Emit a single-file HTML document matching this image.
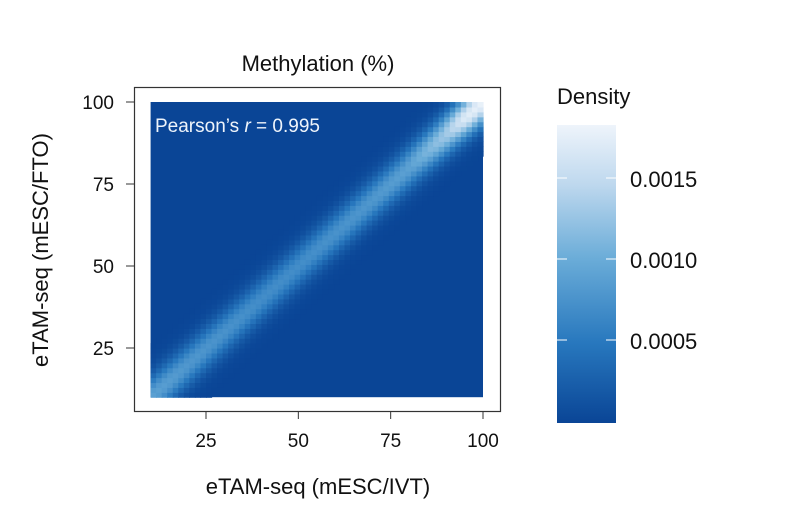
<!DOCTYPE html>
<html><head><meta charset="utf-8">
<style>
html,body{margin:0;padding:0;background:#fff;}
svg{display:block;font-family:"Liberation Sans",sans-serif;}
</style></head>
<body>
<svg id="chart" width="793" height="508" viewBox="0 0 793 508">
<text x="318" y="71" font-size="22" text-anchor="middle" fill="#111">Methylation (%)</text>
<rect x="134.5" y="87.5" width="366" height="324" fill="none" stroke="#333" stroke-width="1.2"/>
<g id="heat"></g>
<g id="xaxis"></g>
<g id="yaxis"></g>
<text x="155" y="132" font-size="19" fill="#eef4fb">Pearson’s <tspan font-style="italic">r</tspan> = 0.995</text>
<text x="318" y="494" font-size="22" text-anchor="middle" fill="#111">eTAM-seq (mESC/IVT)</text>
<text transform="translate(48,250) rotate(-90)" font-size="22" text-anchor="middle" fill="#111">eTAM-seq (mESC/FTO)</text>
<text x="557" y="104" font-size="22" fill="#111">Density</text>
<defs><linearGradient id="cg" x1="0" y1="1" x2="0" y2="0"></linearGradient></defs>
<rect x="557" y="125" width="59" height="298" fill="url(#cg)"/>
<g id="cbticks"></g>
</svg>
<script>
// data
const xTicks = [25, 50, 75, 100];
const yTicks = [25, 50, 75, 100];
const cbTicks = [0.0005, 0.0010, 0.0015];
const cbTickLabels = ["0.0005", "0.0010", "0.0015"];
const densityMax = 0.00183;
// peak density along the diagonal at methylation levels
const diagLevels = [10, 20, 30, 40, 50, 60, 70, 80, 90, 95, 100];
const diagPeak  = [0.0009, 0.0008, 0.00075, 0.0007, 0.0007, 0.00075, 0.0008, 0.0009, 0.0013, 0.0017, 0.0018];
const bandWidth = 3.2; // spread (% units) around identity
const binSize = 1.5;
const domainMin = 10, domainMax = 100;

const NS = "http://www.w3.org/2000/svg";
const X = v => 206 + (v - 25) * (483 - 206) / 75;
const Y = v => 348 - (v - 25) * (348 - 102) / 75;
const CB = d => 421 - d / 0.0005 * 81;

const stops = [[0,[10,69,150]],[0.27,[40,120,190]],[0.55,[106,172,216]],[0.8,[190,216,238]],[1,[238,244,251]]];
function color(t){
  t=Math.max(0,Math.min(1,t));
  for(let i=1;i<stops.length;i++){ if(t<=stops[i][0]){ const a=stops[i-1],b=stops[i]; const f=(t-a[0])/(b[0]-a[0]);
    return "rgb("+a[1].map((c,k)=>Math.round(c+(b[1][k]-c)*f)).join(",")+")";}}
  return "rgb(238,244,251)";
}
function peakAt(v){
  for(let i=1;i<diagLevels.length;i++){ if(v<=diagLevels[i]){ const f=(v-diagLevels[i-1])/(diagLevels[i]-diagLevels[i-1]); return diagPeak[i-1]+(diagPeak[i]-diagPeak[i-1])*f; } }
  return diagPeak[diagPeak.length-1];
}
const heat=document.getElementById("heat");
const bg=document.createElementNS(NS,"rect");
bg.setAttribute("x",X(domainMin));bg.setAttribute("y",Y(domainMax));
bg.setAttribute("width",X(domainMax)-X(domainMin));bg.setAttribute("height",Y(domainMin)-Y(domainMax));
bg.setAttribute("fill",color(0));


heat.appendChild(bg);
for(let xv=domainMin;xv<domainMax-1e-9;xv+=binSize){
  for(let yv=domainMin;yv<domainMax-1e-9;yv+=binSize){
    const cx=xv+binSize/2, cy=yv+binSize/2;
    const d=(cy-cx)/Math.SQRT2;
    if(Math.abs(d)>bandWidth*3.5) continue;
    const dens=peakAt((cx+cy)/2)*Math.exp(-d*d/(2*bandWidth*bandWidth));
    const r=document.createElementNS(NS,"rect");
    r.setAttribute("x",X(xv).toFixed(2));r.setAttribute("y",Y(yv+binSize).toFixed(2));
    r.setAttribute("width",(X(xv+binSize)-X(xv)+0.6).toFixed(2));r.setAttribute("height",(Y(yv)-Y(yv+binSize)+0.6).toFixed(2));
    r.setAttribute("fill",color(dens/densityMax));
    
    
    heat.appendChild(r);
  }
}
const xa=document.getElementById("xaxis");
xTicks.forEach(v=>{
  const l=document.createElementNS(NS,"line");
  l.setAttribute("x1",X(v));l.setAttribute("x2",X(v));l.setAttribute("y1",411);l.setAttribute("y2",419);l.setAttribute("stroke","#333");
  
  
  xa.appendChild(l);
  const t=document.createElementNS(NS,"text");
  t.setAttribute("x",X(v));t.setAttribute("y",447);t.setAttribute("text-anchor","middle");t.setAttribute("font-size","19");t.setAttribute("fill","#111");
  t.textContent=v;
  
  
  xa.appendChild(t);
});
const ya=document.getElementById("yaxis");
yTicks.forEach(v=>{
  const l=document.createElementNS(NS,"line");
  l.setAttribute("x1",126);l.setAttribute("x2",134);l.setAttribute("y1",Y(v));l.setAttribute("y2",Y(v));l.setAttribute("stroke","#333");
  
  
  ya.appendChild(l);
  const t=document.createElementNS(NS,"text");
  t.setAttribute("x",114);t.setAttribute("y",Y(v)+7);t.setAttribute("text-anchor","end");t.setAttribute("font-size","19");t.setAttribute("fill","#111");
  t.textContent=v;
  
  
  ya.appendChild(t);
});
const cg=document.getElementById("cg");
stops.forEach(s=>{
  const st=document.createElementNS(NS,"stop");
  st.setAttribute("offset",s[0]);st.setAttribute("stop-color","rgb("+s[1].join(",")+")");
  cg.appendChild(st);
});
const cbt=document.getElementById("cbticks");
cbTicks.forEach((v,i)=>{
  [[557,567],[606,616]].forEach(p=>{
    const l=document.createElementNS(NS,"line");
    l.setAttribute("x1",p[0]);l.setAttribute("x2",p[1]);l.setAttribute("y1",CB(v));l.setAttribute("y2",CB(v));l.setAttribute("stroke","#fff");l.setAttribute("stroke-width","1");
    
    
    cbt.appendChild(l);
  });
  const t=document.createElementNS(NS,"text");
  t.setAttribute("x",630);t.setAttribute("y",CB(v)+9);t.setAttribute("font-size","22");t.setAttribute("fill","#111");
  t.textContent=cbTickLabels[i];
  
  
  cbt.appendChild(t);
});
</script>
</body></html>
